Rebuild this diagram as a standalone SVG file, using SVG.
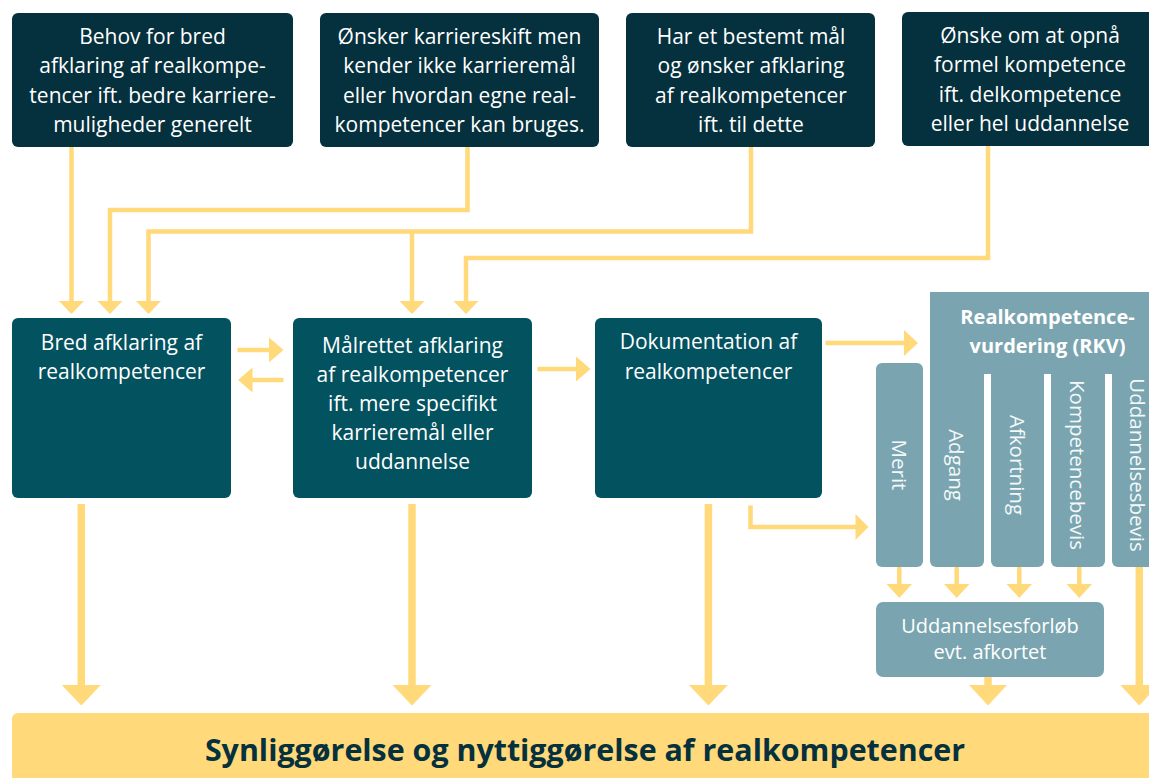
<svg xmlns="http://www.w3.org/2000/svg" width="1149" height="778" viewBox="0 0 1149 778">
<style>
.top{fill:#05303D}
.mid{fill:#03525F}
.lt{fill:#7AA5B0}
.t{font-family:"Open Sans","Noto Sans","Liberation Sans",sans-serif;font-size:21px;fill:#FFFFFF;text-anchor:middle}
.tb{font-family:"Open Sans","Noto Sans","Liberation Sans",sans-serif;font-size:20px;font-weight:bold;fill:#FFFFFF;text-anchor:middle}
.tv{font-family:"Open Sans","Noto Sans","Liberation Sans",sans-serif;font-size:20.5px;fill:#F4F8F9;text-anchor:middle;dominant-baseline:central}
.ln{fill:none;stroke:#FFD97A;stroke-width:4.5}
.lnb{fill:none;stroke:#FFD97A;stroke-width:7.5}
.ah{fill:#FFD97A}
</style>
<rect x="0" y="0" width="1149" height="778" fill="#FFFFFF"/>

<g id="n1"><rect class="top" x="12" y="13" width="281" height="134" rx="6"/>
<text class="t" x="152.5" y="44">Behov for bred</text>
<text class="t" x="152.5" y="73.3">afklaring af realkompe-</text>
<text class="t" x="152.5" y="102.6">tencer ift. bedre karriere-</text>
<text class="t" x="152.5" y="132">muligheder generelt</text></g>

<g id="n2"><rect class="top" x="320" y="13" width="279" height="134" rx="6"/>
<text class="t" x="459.5" y="44">Ønsker karriereskift men</text>
<text class="t" x="459.5" y="73.3">kender ikke karrieremål</text>
<text class="t" x="459.5" y="102.6">eller hvordan egne real-</text>
<text class="t" x="459.5" y="132">kompetencer kan bruges.</text></g>

<g id="n3"><rect class="top" x="626" y="13" width="249" height="134" rx="6"/>
<text class="t" x="751" y="44">Har et bestemt mål</text>
<text class="t" x="751" y="73.3">og ønsker afklaring</text>
<text class="t" x="751" y="102.6">af realkompetencer</text>
<text class="t" x="751" y="132">ift. til dette</text></g>

<g id="n4"><rect class="top" x="902" y="12" width="262" height="134" rx="6"/>
<text class="t" x="1030" y="43">Ønske om at opnå</text>
<text class="t" x="1030" y="72.3">formel kompetence</text>
<text class="t" x="1030" y="101.6">ift. delkompetence</text>
<text class="t" x="1030" y="131">eller hel uddannelse</text></g>

<g id="n5"><rect class="mid" x="12" y="318" width="219" height="180" rx="6"/>
<text class="t" x="121.5" y="350">Bred afklaring af</text>
<text class="t" x="121.5" y="379">realkompetencer</text></g>

<g id="n6"><rect class="mid" x="293" y="318" width="239" height="180" rx="6"/>
<text class="t" x="412.5" y="353">Målrettet afklaring</text>
<text class="t" x="412.5" y="382">af realkompetencer</text>
<text class="t" x="412.5" y="411">ift. mere specifikt</text>
<text class="t" x="412.5" y="440">karrieremål eller</text>
<text class="t" x="412.5" y="469">uddannelse</text></g>

<g id="n7"><rect class="mid" x="595" y="318" width="227" height="180" rx="6"/>
<text class="t" x="708.5" y="349">Dokumentation af</text>
<text class="t" x="708.5" y="379">realkompetencer</text></g>

<g id="rkv">
<rect class="lt" x="930" y="292" width="232" height="82"/>
<text class="tb" x="1047.5" y="323.5">Realkompetence-</text>
<text class="tb" x="1047.5" y="352.5">vurdering (RKV)</text>
</g>
<g id="merit"><rect class="lt" x="876" y="363" width="47" height="204" rx="6"/>
<text class="tv" x="899.5" y="465" transform="rotate(90 899.5 465)">Merit</text></g>
<g id="adgang"><rect class="lt" x="930" y="360" width="54" height="207" rx="6"/>
<text class="tv" x="957" y="465" transform="rotate(90 957 465)">Adgang</text></g>
<g id="afkortning"><rect class="lt" x="991" y="360" width="53" height="207" rx="6"/>
<text class="tv" x="1017.5" y="465" transform="rotate(90 1017.5 465)">Afkortning</text></g>
<g id="kompetencebevis"><rect class="lt" x="1051" y="360" width="54" height="207" rx="6"/>
<text class="tv" x="1078" y="465" transform="rotate(90 1078 465)">Kompetencebevis</text></g>
<g id="uddannelsesbevis"><rect class="lt" x="1112" y="360" width="52" height="207" rx="6"/>
<text class="tv" x="1138" y="465" transform="rotate(90 1138 465)">Uddannelsesbevis</text></g>

<g id="forloeb"><rect class="lt" x="876" y="602" width="228" height="75" rx="7"/>
<text class="t" x="990" y="633" style="font-size:20px">Uddannelsesforløb</text>
<text class="t" x="990" y="659" style="font-size:20px">evt. afkortet</text></g>

<g id="bottom"><rect x="12" y="713" width="1152" height="80" rx="6" fill="#FFD97A"/>
<text x="585" y="761" font-family="'Open Sans','Noto Sans','Liberation Sans',sans-serif" font-size="30.4" font-weight="bold" fill="#05303D" text-anchor="middle">Synliggørelse og nyttiggørelse af realkompetencer</text></g>

<g id="connectors">
<path class="ln" d="M71.5 147V302"/>
<polygon class="ah" points="59,301 84,301 71.5,314"/>
<path class="ln" d="M467.5 147V210H110V302"/>
<polygon class="ah" points="97.5,301 122.5,301 110,314"/>
<path class="ln" d="M751 147V231.5H148.5V302"/>
<polygon class="ah" points="136,301 161,301 148.5,314"/>
<path class="ln" d="M412 231.5V302"/>
<polygon class="ah" points="399.5,301 424.5,301 412,314"/>
<path class="ln" d="M988 146V258H466V302"/>
<polygon class="ah" points="453.5,301 478.5,301 466,314"/>

<path class="ln" d="M237.5 350H270"/>
<polygon class="ah" points="269,337.5 269,362.5 283.5,350"/>
<path class="ln" d="M283.5 380H251"/>
<polygon class="ah" points="252.5,367.5 252.5,392.5 238,380"/>
<path class="ln" d="M537.5 369H577"/>
<polygon class="ah" points="576,356.5 576,381.5 590.5,369"/>
<path class="ln" d="M825.5 343H905"/>
<polygon class="ah" points="904,330 904,356 918,343"/>
<path class="ln" d="M750.5 505.5V527H857"/>
<polygon class="ah" points="855.5,514 855.5,540 868.5,527"/>

<path class="ln" d="M899.3 567V585"/>
<polygon class="ah" points="886.5,584 912,584 899.3,598"/>
<path class="ln" d="M956.7 567V585"/>
<polygon class="ah" points="944,584 969.5,584 956.7,598"/>
<path class="ln" d="M1019.3 567V585"/>
<polygon class="ah" points="1006.5,584 1032,584 1019.3,598"/>
<path class="ln" d="M1079.3 567V585"/>
<polygon class="ah" points="1066.5,584 1092,584 1079.3,598"/>

<path class="lnb" d="M81.3 504V686"/>
<polygon class="ah" points="61.8,685 100.8,685 81.3,705.5"/>
<path class="lnb" d="M412 504V686"/>
<polygon class="ah" points="392.5,685 431.5,685 412,705.5"/>
<path class="lnb" d="M708.4 504V686"/>
<polygon class="ah" points="688.9,685 727.9,685 708.4,705.5"/>
<path class="lnb" d="M988 677V686"/>
<polygon class="ah" points="969,685 1007,685 988,705.5"/>
<path class="lnb" d="M1139.3 567V686"/>
<polygon class="ah" points="1120.3,685 1158.3,685 1139.3,705.5"/>
</g>
</svg>
